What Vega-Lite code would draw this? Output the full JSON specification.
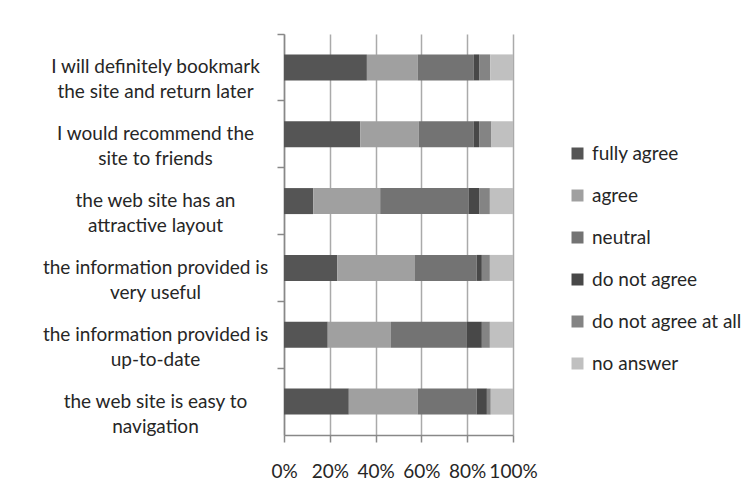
{
  "$schema": "https://vega.github.io/schema/vega-lite/v6.json",
  "autosize": "none",
  "width": 229,
  "height": 401,
  "padding": {"left": 284, "top": 34, "right": 239, "bottom": 69},
  "background": "white",
  "config": {
    "font": "Lato",
    "view": {"stroke": null},
    "axis": {"labelFont": "Lato", "labelColor": "#262626", "labelFontSize": 19}
  },
  "data": {
    "values": [
      {"q": "I will definitely bookmark|the site and return later", "r": "fully agree", "v": 36.2},
      {"q": "I will definitely bookmark|the site and return later", "r": "agree", "v": 22.2},
      {"q": "I will definitely bookmark|the site and return later", "r": "neutral", "v": 24.5},
      {"q": "I will definitely bookmark|the site and return later", "r": "do not agree", "v": 2.3},
      {"q": "I will definitely bookmark|the site and return later", "r": "do not agree at all", "v": 4.9},
      {"q": "I will definitely bookmark|the site and return later", "r": "no answer", "v": 9.9},
      {"q": "I would recommend the|site to friends", "r": "fully agree", "v": 33.3},
      {"q": "I would recommend the|site to friends", "r": "agree", "v": 25.5},
      {"q": "I would recommend the|site to friends", "r": "neutral", "v": 24.1},
      {"q": "I would recommend the|site to friends", "r": "do not agree", "v": 2.3},
      {"q": "I would recommend the|site to friends", "r": "do not agree at all", "v": 5.4},
      {"q": "I would recommend the|site to friends", "r": "no answer", "v": 9.4},
      {"q": "the web site has an|attractive layout", "r": "fully agree", "v": 12.8},
      {"q": "the web site has an|attractive layout", "r": "agree", "v": 29.2},
      {"q": "the web site has an|attractive layout", "r": "neutral", "v": 38.7},
      {"q": "the web site has an|attractive layout", "r": "do not agree", "v": 4.5},
      {"q": "the web site has an|attractive layout", "r": "do not agree at all", "v": 4.7},
      {"q": "the web site has an|attractive layout", "r": "no answer", "v": 10.1},
      {"q": "the information provided is|very useful", "r": "fully agree", "v": 23.3},
      {"q": "the information provided is|very useful", "r": "agree", "v": 33.9},
      {"q": "the information provided is|very useful", "r": "neutral", "v": 26.9},
      {"q": "the information provided is|very useful", "r": "do not agree", "v": 2.3},
      {"q": "the information provided is|very useful", "r": "do not agree at all", "v": 3.5},
      {"q": "the information provided is|very useful", "r": "no answer", "v": 10.1},
      {"q": "the information provided is|up-to-date", "r": "fully agree", "v": 19.1},
      {"q": "the information provided is|up-to-date", "r": "agree", "v": 27.6},
      {"q": "the information provided is|up-to-date", "r": "neutral", "v": 33.2},
      {"q": "the information provided is|up-to-date", "r": "do not agree", "v": 6.5},
      {"q": "the information provided is|up-to-date", "r": "do not agree at all", "v": 3.5},
      {"q": "the information provided is|up-to-date", "r": "no answer", "v": 10.1},
      {"q": "the web site is easy to|navigation", "r": "fully agree", "v": 28.3},
      {"q": "the web site is easy to|navigation", "r": "agree", "v": 30.1},
      {"q": "the web site is easy to|navigation", "r": "neutral", "v": 25.7},
      {"q": "the web site is easy to|navigation", "r": "do not agree", "v": 4.5},
      {"q": "the web site is easy to|navigation", "r": "do not agree at all", "v": 1.7},
      {"q": "the web site is easy to|navigation", "r": "no answer", "v": 9.7}
    ]
  },
  "layer": [
    {
      "mark": {"type": "bar", "size": 26},
      "encoding": {
        "x": {
          "field": "v",
          "type": "quantitative",
          "stack": "normalize",
          "scale": {"domain": [0, 1]},
          "axis": {
            "title": null,
            "format": "%",
            "values": [0, 0.2, 0.4, 0.6, 0.8, 1],
            "labelOverlap": false,
            "labelBound": false,
            "labelFlush": false,
            "grid": true,
            "gridColor": "#aaaaaa",
            "gridWidth": 1.5,
            "domainColor": "#888888",
            "domainWidth": 1.5,
            "tickColor": "#888888",
            "tickWidth": 1.5,
            "tickSize": 7,
            "labelPadding": 20
          }
        },
        "y": {
          "field": "q",
          "type": "nominal",
          "sort": null,
          "scale": {"paddingInner": 0, "paddingOuter": 0},
          "axis": {
            "title": null,
            "orient": "left",
            "labelExpr": "split(datum.label, '|')",
            "labelLineHeight": 25,
            "labelAlign": "center",
            "labelPadding": 129,
            "ticks": false,
            "domainColor": "#888888",
            "domainWidth": 1.5,
            "labelLimit": 400
          }
        },
        "color": {
          "field": "r",
          "type": "nominal",
          "sort": ["fully agree", "agree", "neutral", "do not agree", "do not agree at all", "no answer"],
          "scale": {
            "domain": ["fully agree", "agree", "neutral", "do not agree", "do not agree at all", "no answer"],
            "range": ["#555555", "#a0a0a0", "#737373", "#484848", "#848484", "#c0c0c0"]
          },
          "legend": {
            "title": null,
            "orient": "none",
            "legendX": 284,
            "legendY": 110,
            "symbolType": "square",
            "symbolSize": 144,
            "symbolStrokeWidth": 0,
            "labelFont": "Lato",
            "labelFontSize": 19,
            "labelColor": "#262626",
            "rowPadding": 22,
            "labelOffset": 5,
            "labelLimit": 300
          }
        },
        "order": {"field": "ord", "type": "quantitative"}
      }
    },
    {
      "mark": {"type": "bar", "size": 26, "opacity": 0},
      "encoding": {
        "x": {"field": "v", "type": "quantitative", "stack": "normalize"},
        "y": {
          "field": "q",
          "type": "nominal",
          "sort": null,
          "axis": {
            "title": null,
            "orient": "left",
            "labels": false,
            "domain": false,
            "ticks": true,
            "bandPosition": 0,
            "tickColor": "#888888",
            "tickWidth": 1.5,
            "tickSize": 7
          }
        }
      }
    }
  ],
  "resolve": {"axis": {"y": "independent"}}
}
